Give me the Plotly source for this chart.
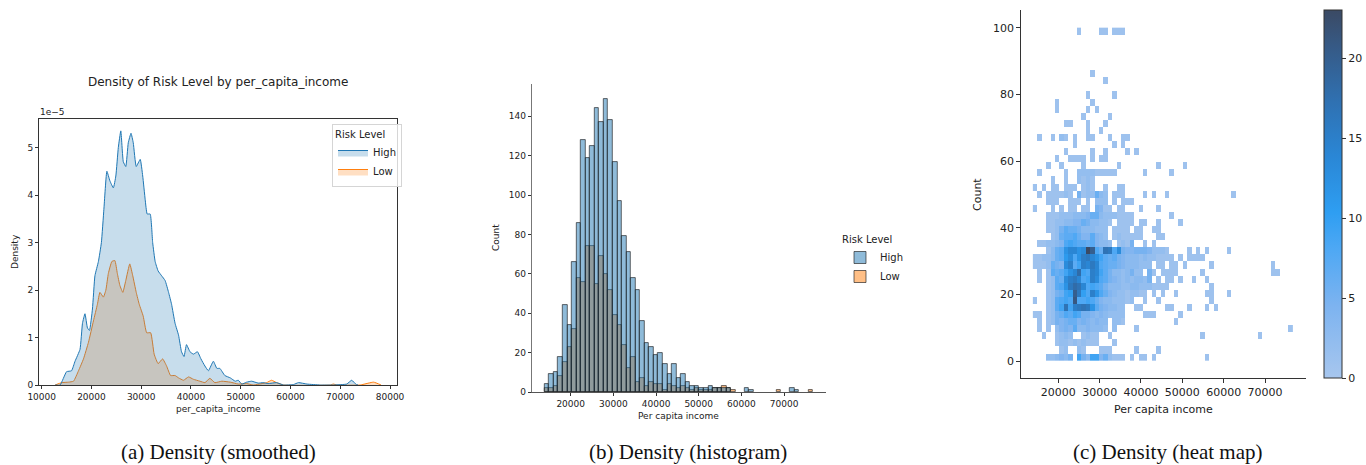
import plotly.graph_objects as go

FIG_W, FIG_H = 1366, 465

# ---------------- data ----------------
RISK_LEVELS = ["High", "Low"]

# (a) smoothed density, values in units of 1e-5
KDE_X_HIGH = [12700, 13700, 15000, 16000, 16700, 17700, 18200, 18700, 19200, 19600,
              20200, 20700, 21400, 22000, 22500, 23100, 23700, 24400, 24900, 25400,
              25900, 26400, 26900, 27400, 27950, 28400, 29000, 29800, 30300, 30800,
              31200, 31800, 32300, 32800, 33400, 34100, 34800, 35500, 36100, 36800,
              37500, 38100, 38600, 39100, 39800, 40500, 41300, 42000, 42800, 43500,
              44500, 45200, 45800, 46800, 47900, 48900, 49500, 50200, 51200, 52200,
              53500, 54500, 55500, 57200, 58600, 60600, 61600, 63300, 66000, 68600,
              71300, 72300, 73200, 73600]
KDE_Y_HIGH = [0, 0, 0.28, 0.3, 0.5, 0.75, 1.3, 1.5, 1.2, 1.15,
              1.6, 2.3, 2.6, 3.0, 3.7, 4.5, 4.3, 4.15, 4.4, 5.0,
              5.35, 4.7, 4.6, 5.1, 5.3, 5.1, 4.6, 4.75, 4.4, 3.9,
              3.6, 3.6, 3.0, 2.6, 2.4, 2.3, 2.2, 1.95, 1.7, 1.3,
              1.05, 0.7, 0.6, 0.85, 0.7, 0.65, 0.7, 0.55, 0.4, 0.3,
              0.5, 0.35, 0.35, 0.2, 0.15, 0.08, 0.1, 0.02, 0.06, 0.08,
              0.04, 0.05, 0.03, 0.05, 0.0, 0.01, 0.05, 0.02, 0.0, 0.0,
              0.02, 0.1, 0.01, 0]
KDE_X_LOW = [12700, 14000, 15400, 16400, 17400, 18400, 19400, 20400, 21200, 21700,
             22400, 22900, 23400, 24100, 24700, 25200, 25700, 26300, 26900, 27700,
             28300, 29000, 29600, 30400, 31100, 31900, 32600, 33400, 34300, 35100,
             35900, 36800, 37500, 38500, 39500, 40500, 41800, 42800, 43800, 44800,
             46200, 47900, 49500, 51200, 52500, 55200, 56200, 57200, 58600, 68000,
             68600, 69300, 74000, 76700, 78200]
KDE_Y_LOW = [0, 0.05, 0.06, 0.08, 0.3, 0.55, 0.9, 1.35, 1.7, 1.95,
             1.85, 2.0, 2.35, 2.6, 2.62, 2.35, 2.1, 1.95, 2.2, 2.55,
             2.3, 1.95, 1.7, 1.45, 1.1, 1.1, 0.65, 0.45, 0.55, 0.4,
             0.2, 0.2, 0.15, 0.1, 0.17, 0.12, 0.08, 0.05, 0.14, 0.05,
             0.08, 0.06, 0.02, 0.03, 0.0, 0.05, 0.1, 0.05, 0.0, 0.0,
             0.02, 0.0, 0.0, 0.06, 0.0]

# (b) histogram counts, common bins
BIN_START = 13850
BIN_WIDTH = 1066
HIST_HIGH = [4, 9, 10, 18, 44, 34, 66, 86, 128, 119,
             125, 144, 137, 149, 138, 117, 97, 79, 71, 58,
             52, 36, 25, 23, 19, 20, 14, 9, 14, 7,
             9, 5, 3, 3, 2, 2, 3, 2, 2, 2,
             2, 0, 0, 0, 2, 1, 0, 0, 0, 0,
             0, 0, 0, 0, 2, 1, 0, 0, 0]
HIST_LOW = [2, 2, 3, 8, 15, 23, 32, 58, 56, 74,
            74, 55, 69, 60, 52, 39, 34, 24, 12, 18,
            5, 7, 3, 5, 4, 4, 1, 4, 3, 2,
            3, 2, 1, 2, 1, 1, 1, 2, 2, 3,
            2, 1, 0, 0, 0, 0, 0, 0, 0, 0,
            0, 1, 0, 0, 0, 0, 0, 0, 1]

# (c) 2-D histogram: rows listed top (y near 100) to bottom (y near 0);
# each token "startcol:counts" with counts in base 36, '.' = empty
HEAT_Y_MAX = 100
HEAT_ROWS = [
    "10:1 15:11 18:111",
    "", "", "", "", "",
    "13:1",
    "16:1",
    "",
    "12:1 18:1",
    "5:1 13:1",
    "5:1 12:1 14:1",
    "11:1 17:1",
    "7:11 12:1 16:1",
    "12:1 15:1",
    "1:1 4:1 6:21 9:1 12:11 17:1 20:11",
    "9:1 18:1 20:1",
    "7:1 13:1 16:1 21:1 23:1",
    "5:1 8:1111 13:1 15:11",
    "3:1 6:1 11:1 19:1 28:1 34:1",
    "1:1 7:1 10:222211111 25:1 31:1",
    "4:1 7:1 10:2121",
    "0:1 2:1 4:11 7:111 11:121 16:1 19:11",
    "1:1 3:111121 10:5122632 18:111 25:1 27:1 30:1 45:1",
    "3:111 8:111 12:1 14:222 18:1 20:111",
    "0:1 4:1 6:1 8:11 11:11 14:5411 19:11 24:1 28:1",
    "3:11122233346632221111 31:1",
    "3:112233446533221.1111 24:11 28:1 33:1",
    "3:11257665333222.1111 23:11 27:11",
    "4:1267786447432.12111 23:11 28:11",
    "1:11223489877674332.1215 25:1 27:1",
    "3:1367ceecdnk86hg8d54455542221 35:1 37:1 39:1 44:1",
    "0:11223 5:67bd8 10:cfgec 15:97675 20:43332 25:32211 30:11 33:1 35:1111",
    "0:11126 5:54df7 10:9fege 15:87665 20:43332 25:22 28:11 31:11 34:1 40:1 54:1",
    "1:1 3:17679 8:cei98 13:fe975 18:33235 23:22 26:51 29:1111 38:1 54:11",
    "1:1 3:1276d 8:fge89 13:fd875 18:43232 23:3325 28:1 30:11 33:1 36:1 39:1",
    "3:1278c 8:gihe8 13:98753 18:33223 23:32221 28:111 40:1",
    "3:12569 8:akga8 13:fc864 18:32212 23:211 27:1 29:1 32:1 39:11 44:1",
    "0:1 3:127898 9:l8898 14:64332 19:2212 25:1 28:1 40:1",
    "3:1279h 8:9fghg 13:c7543 18:322 23:11 30:11 35:1 39:1 41:1",
    "0:11 3:12568 8:79855 13:43432 18:222 25:111 33:1",
    "1:1 3:12545 8:66454 13:3433 18:221 32:1",
    "1:1 3:1 5:24547 10:33433 15:32 18:2 23:1 58:1",
    "2:1 5:1232 11:1211 17:1 38:1 51:1",
    "5:1221212111 18:1",
    "6:12 10:21 15:111 23:1 28:1",
    "3:223435 10:95399462111 22:1 24:11 27:1 39:1",
]

COLORS = {"High": "#1f77b4", "Low": "#ff7f0e"}
FILL_KDE = {"High": "rgba(31,119,180,0.25)", "Low": "rgba(255,127,14,0.25)"}
FILL_BAR = {"High": "rgba(31,119,180,0.5)", "Low": "rgba(255,127,14,0.5)"}
HEAT_SCALE = [[0.0, "#a7c6ee"], [0.2, "#7cb3f0"], [0.35, "#4ea8f4"], [0.45, "#2e9ef2"],
              [0.6, "#2a87d6"], [0.75, "#2f71b2"], [0.9, "#365a86"], [1.0, "#3b4a64"]]

# ---------------- derived ----------------
N_BINS = len(HIST_HIGH)
bin_centers = [BIN_START + BIN_WIDTH * (i + 0.5) for i in range(N_BINS)]
n_rows = len(HEAT_ROWS)
row_h = HEAT_Y_MAX / n_rows
row_centers = [(j + 0.5) * row_h for j in range(n_rows)]


def decode_row(spec):
    row = [None] * N_BINS
    for tok in spec.split():
        start, digits = tok.split(":")
        for k, ch in enumerate(digits):
            if ch != ".":
                row[int(start) + k] = int(ch, 36)
    return row


heat_z = [decode_row(s) for s in reversed(HEAT_ROWS)]
heat_max = max(v for r in heat_z for v in r if v is not None)


def px_x(p):
    return p / FIG_W


def px_y(p):
    return 1 - p / FIG_H


FONT = "DejaVu Sans"
TXT = "#222222"

fig = go.Figure()

# (a) KDE: Low drawn first, High on top
kde = {"High": (KDE_X_HIGH, KDE_Y_HIGH), "Low": (KDE_X_LOW, KDE_Y_LOW)}
for lvl in ["Low", "High"]:
    xs, ys = kde[lvl]
    fig.add_trace(go.Scatter(
        x=xs, y=ys, mode="lines", name=lvl, legend="legend",
        legendrank=RISK_LEVELS.index(lvl) + 1,
        line=dict(color=COLORS[lvl], width=1, shape="spline", smoothing=0.4),
        fill="tozeroy", fillcolor=FILL_KDE[lvl],
        xaxis="x", yaxis="y", hoverinfo="skip"))

# (b) histogram
hist = {"High": HIST_HIGH, "Low": HIST_LOW}
for lvl in ["Low", "High"]:
    fig.add_trace(go.Bar(
        x=bin_centers, y=[v if v else None for v in hist[lvl]], width=BIN_WIDTH,
        name=lvl, legend="legend2", legendrank=RISK_LEVELS.index(lvl) + 1,
        marker=dict(color=FILL_BAR[lvl], line=dict(color="rgba(25,25,25,0.8)", width=0.8)),
        xaxis="x2", yaxis="y2", hoverinfo="skip"))

# (c) heat map
fig.add_trace(go.Heatmap(
    x=bin_centers, y=row_centers, z=heat_z, zmin=0, zmax=heat_max,
    colorscale=HEAT_SCALE, xaxis="x3", yaxis="y3", hoverinfo="skip",
    showlegend=False,
    colorbar=dict(x=px_x(1324), xanchor="left", y=px_y(378), yanchor="bottom",
                  len=(378 - 10) / FIG_H, lenmode="fraction",
                  thickness=18, thicknessmode="pixels", xpad=0, ypad=0,
                  outlinewidth=1, outlinecolor="#333",
                  ticks="outside", ticklen=4, tickwidth=1, tickcolor="#333",
                  tickvals=[0, 5, 10, 15, 20],
                  tickfont=dict(family=FONT, size=11, color=TXT))))

axis_base = dict(showgrid=False, zeroline=False, showline=True, ticks="outside",
                 tickwidth=0.8, tickcolor="#333", linecolor="#333", linewidth=0.8,
                 automargin=False)

fig.update_layout(
    width=FIG_W, height=FIG_H,
    margin=dict(l=0, r=0, t=0, b=0, pad=0, autoexpand=False),
    paper_bgcolor="white", plot_bgcolor="white",
    barmode="overlay", bargap=0,
    font=dict(family=FONT, size=9, color=TXT),
    xaxis=dict(axis_base, domain=[px_x(39), px_x(397)], range=[9460, 81400],
               anchor="y", mirror=True, ticklen=3, tickformat="d",
               tickvals=[10000, 20000, 30000, 40000, 50000, 60000, 70000, 80000],
               tickfont=dict(size=9)),
    yaxis=dict(axis_base, domain=[px_y(385), px_y(119)], range=[0, 5.6],
               anchor="x", mirror=True, ticklen=3, tickvals=[0, 1, 2, 3, 4, 5],
               tickfont=dict(size=9)),
    xaxis2=dict(axis_base, domain=[px_x(531.7), px_x(825.7)], range=[10860, 79760],
                anchor="y2", ticklen=3, linecolor="#555", tickformat="d",
                tickvals=[20000, 30000, 40000, 50000, 60000, 70000],
                tickfont=dict(size=9)),
    yaxis2=dict(axis_base, domain=[px_y(392), px_y(84)], range=[0, 156.4],
                anchor="x2", ticklen=3, linecolor="#777",
                tickvals=[0, 20, 40, 60, 80, 100, 120, 140],
                tickfont=dict(size=9)),
    xaxis3=dict(axis_base, domain=[px_x(1021), px_x(1305.7)], range=[10977, 79845],
                anchor="y3", ticklen=4, tickformat="d",
                tickvals=[20000, 30000, 40000, 50000, 60000, 70000],
                tickfont=dict(size=11)),
    yaxis3=dict(axis_base, domain=[px_y(378), px_y(10)], range=[-5.1, 105.3],
                anchor="x3", ticklen=4, tickvals=[0, 20, 40, 60, 80, 100],
                tickfont=dict(size=11)),
    legend=dict(x=px_x(332), y=px_y(124), xanchor="left", yanchor="top",
                bgcolor="rgba(255,255,255,0.8)", bordercolor="#d5d5d5", borderwidth=1,
                font=dict(size=10), itemwidth=30, tracegroupgap=0,
                title=dict(text="Risk Level", font=dict(size=10))),
    legend2=dict(x=px_x(840), y=px_y(230), xanchor="left", yanchor="top",
                 bgcolor="rgba(0,0,0,0)", borderwidth=0,
                 font=dict(size=10), itemwidth=30, tracegroupgap=0,
                 title=dict(text="Risk Level", font=dict(size=10))),
)


def label(text, x, y, size=9, angle=0, xanchor="center", family=FONT, color=TXT):
    fig.add_annotation(text=text, x=px_x(x), y=px_y(y), xref="paper", yref="paper",
                       showarrow=False, textangle=angle, xanchor=xanchor, yanchor="middle",
                       font=dict(family=family, size=size, color=color))


label("Density of Risk Level by per_capita_income", 218, 82, size=12)
label("1e\u22125", 38, 112, size=9, xanchor="left")
label("Density", 15, 252, angle=-90)
label("per_capita_income", 218, 409)
label("Count", 496, 238, angle=-90)
label("Per capita income", 678.7, 416)
label("Count", 977, 195, size=11, angle=-90)
label("Per capita income", 1163, 409, size=11)

CAPTIONS = ["(a) Density (smoothed)", "(b) Density (histogram)", "(c) Density (heat map)"]
CAPTION_X = [218, 688, 1168]
for cap, cx in zip(CAPTIONS, CAPTION_X):
    label(cap, cx, 452, size=21, family="Liberation Serif", color="#111")

fig.write_html("out.html", config={"displayModeBar": False},
               post_script="document.body.style.margin='0px';document.body.style.overflow='hidden';")
